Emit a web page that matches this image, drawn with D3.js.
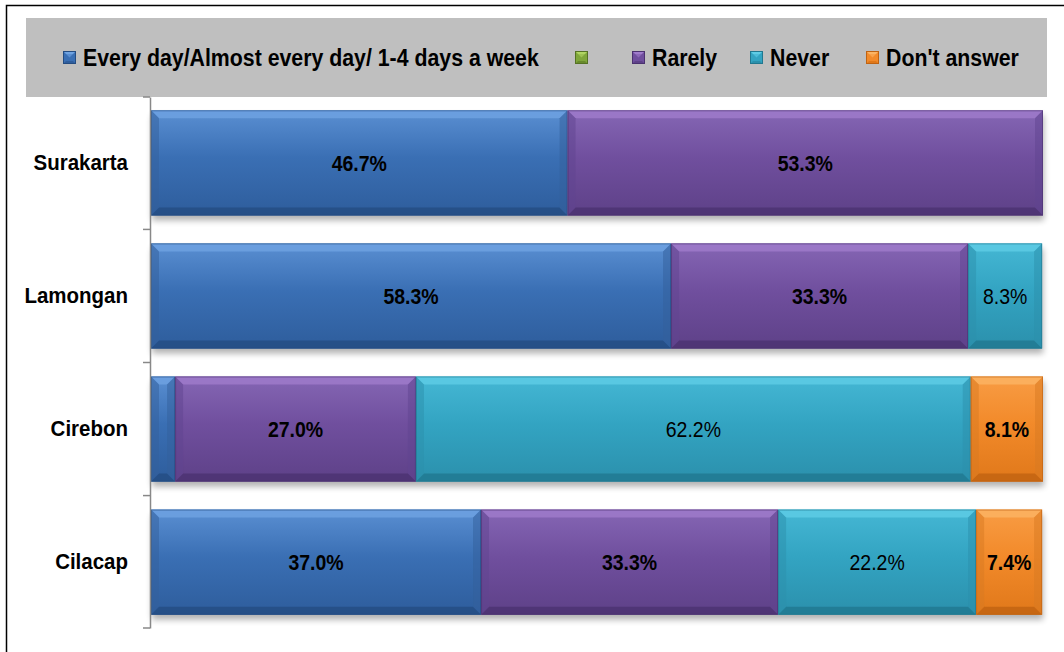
<!DOCTYPE html>
<html><head><meta charset="utf-8">
<script src="https://cdn.jsdelivr.net/npm/d3@7"></script>
<style>
body{margin:0;background:#fff;}
svg{display:block;}
text{font-family:"Liberation Sans",Arial,sans-serif;}
</style></head>
<body><svg id="chart" width="1064" height="652"></svg>
<script>
const categories = ["Surakarta", "Lamongan", "Cirebon", "Cilacap"];
const seriesNames = ["Every day/Almost every day/ 1-4 days a week", "", "Rarely", "Never", "Don't answer"];
const everyDay = [46.7, 58.3, 2.7, 37.0];
const blank = [0, 0, 0, 0];
const rarely = [53.3, 33.3, 27.0, 33.3];
const never = [0, 8.3, 62.2, 22.2];
const dontAnswer = [0, 0, 8.1, 7.4];
const seriesValues = [everyDay, blank, rarely, never, dontAnswer];
const labelBold = [true, true, true, false, true];

const K = 1.12; // narrow-font emulation: taller glyphs, same width

const palette = [
  {top:"#5a8fd2", mid:"#3a6fb4", bot:"#2e5d9c", edgeT:"#6fa3e2", edgeB:"#244c82", side:"#335f9c"},
  {top:"#9bc44e", mid:"#7fa63a", bot:"#688a2c", edgeT:"#b0d562", edgeB:"#557224", side:"#6e9030"},
  {top:"#8566b4", mid:"#704f9e", bot:"#5e4188", edgeT:"#a07ccc", edgeB:"#4b3270", side:"#604490"},
  {top:"#45b7d4", mid:"#33a4c2", bot:"#2b90ac", edgeT:"#5fcde6", edgeB:"#217890", side:"#2b8fab"},
  {top:"#f89c44", mid:"#f28a2a", bot:"#e0781a", edgeT:"#fbb464", edgeB:"#c06312", side:"#d87a22"}
];

const svg = d3.select("#chart");
const defs = svg.append("defs");
const f = defs.append("filter").attr("id","shadow").attr("x","-5%").attr("y","-20%").attr("width","110%").attr("height","160%");
f.append("feGaussianBlur").attr("stdDeviation", 3);

palette.forEach((p,i)=>{
  const g = defs.append("linearGradient").attr("id","g"+i).attr("x1",0).attr("y1",0).attr("x2",0).attr("y2",1);
  g.append("stop").attr("offset","0%").attr("stop-color",p.top);
  g.append("stop").attr("offset","45%").attr("stop-color",p.mid);
  g.append("stop").attr("offset","100%").attr("stop-color",p.bot);
});

// outer frame
svg.append("rect").attr("x",6.5).attr("y",5.5).attr("width",1100).attr("height",700)
  .attr("fill","none").attr("stroke","#000").attr("stroke-width",1.5);

// legend box
svg.append("rect").attr("x",26).attr("y",18).attr("width",1021).attr("height",79).attr("fill","#bfbfbf");

const x = d3.scaleLinear().domain([0,100]).range([151,1043]);
const y = d3.scaleBand().domain(categories).range([97,628]).paddingInner(0.21).paddingOuter(0.1);

const rows = categories.map((c,i)=>{
  let acc = 0;
  return seriesValues.map((arr,s)=>{
    const v = arr[i]; const d = {cat:c, s, v, x0:acc, x1:acc+v}; acc += v; return d;
  }).filter(d=>d.v>0);
});

// shadows
rows.forEach(r=>{
  const first = r[0], last = r[r.length-1];
  svg.append("rect").attr("x",x(first.x0)+1).attr("y",y(first.cat)+5)
    .attr("width",x(last.x1)-x(first.x0)).attr("height",y.bandwidth())
    .attr("fill","#000").attr("opacity",0.3).attr("filter","url(#shadow)");
});

const bev = 8;
const segs = svg.append("g").selectAll("g.seg").data(rows.flat()).join("g").attr("class","seg");
segs.each(function(d){
  const g = d3.select(this);
  const p = palette[d.s];
  const x0 = x(d.x0), x1 = x(d.x1), y0 = y(d.cat), y1 = y0 + y.bandwidth();
  const b = Math.min(bev, (x1-x0)/2);
  g.append("rect").attr("x",x0).attr("y",y0).attr("width",x1-x0).attr("height",y1-y0).attr("fill","url(#g"+d.s+")");
  const poly = pts => pts.map(q=>q.join(",")).join(" ");
  g.append("polygon").attr("points",poly([[x0,y0],[x1,y0],[x1-b,y0+b],[x0+b,y0+b]])).attr("fill",p.edgeT).attr("opacity",0.8);
  g.append("polygon").attr("points",poly([[x0,y1],[x1,y1],[x1-b,y1-b],[x0+b,y1-b]])).attr("fill",p.edgeB).attr("opacity",0.8);
  g.append("polygon").attr("points",poly([[x0,y0],[x0+b,y0+b],[x0+b,y1-b],[x0,y1]])).attr("fill",p.side).attr("opacity",0.5);
  g.append("polygon").attr("points",poly([[x1,y0],[x1-b,y0+b],[x1-b,y1-b],[x1,y1]])).attr("fill",p.side).attr("opacity",0.5);
  g.append("rect").attr("x",x0+0.5).attr("y",y0+0.5).attr("width",x1-x0-1).attr("height",y1-y0-1)
    .attr("fill","none").attr("stroke",p.edgeB).attr("stroke-opacity",0.6).attr("stroke-width",1);
  if (d.v >= 5) {
    g.append("text")
      .attr("transform",`translate(${(x0+x1)/2},${(y0+y1)/2}) scale(${1/K},1)`)
      .attr("dy","0.36em")
      .attr("text-anchor","middle").attr("font-size",19.5*K)
      .attr("font-weight",labelBold[d.s]?"bold":"normal").attr("fill","#000")
      .text(d.v.toFixed(1)+"%");
  }
});

// axis
const axis = d3.axisLeft(y).tickSize(0).tickPadding(22).tickSizeOuter(0);
const ag = svg.append("g").attr("transform","translate(150,0)").call(axis);
ag.select(".domain").attr("stroke","#888").attr("stroke-width",1.5);
ag.selectAll(".tick text").attr("font-size",20.5*K).attr("font-weight","bold").attr("fill","#000")
  .attr("x",-22*K).attr("transform",`scale(${1/K},1)`)
  .style("font-family",'"Liberation Sans",Arial,sans-serif');
const bounds = [97].concat(categories.map(c=>y(c)+y.bandwidth()+y.step()*y.paddingInner()/2));
bounds[bounds.length-1] = 628;
ag.selectAll("line.bnd").data(bounds).join("line").attr("class","bnd")
  .attr("x1",-7).attr("x2",0).attr("y1",d=>d).attr("y2",d=>d).attr("stroke","#888").attr("stroke-width",1.5);

// legend
const legendX = [63, 575, 632, 750, 866];
const lg = svg.append("g").selectAll("g").data(seriesNames.map((n,i)=>({n,i}))).join("g")
  .attr("transform",d=>`translate(${legendX[d.i]},51)`);
lg.each(function(d){
  const g = d3.select(this), p = palette[d.i], s = 13;
  g.append("rect").attr("width",s).attr("height",s).attr("fill",p.mid);
  g.append("polygon").attr("points",`0,0 ${s},0 ${s-3},3 3,3`).attr("fill",p.edgeT);
  g.append("polygon").attr("points",`3,3 ${s-3},3 ${s/2},${s/2}`).attr("fill",p.edgeT).attr("opacity",0.6);
  g.append("polygon").attr("points",`0,${s} ${s},${s} ${s-3},${s-3} 3,${s-3}`).attr("fill",p.bot);
  g.append("rect").attr("x",0.5).attr("y",0.5).attr("width",s-1).attr("height",s-1).attr("fill","none").attr("stroke",p.edgeB).attr("stroke-width",1);
  if (d.n) g.append("text").attr("transform",`translate(20,${s/2}) scale(${1/K},1)`).attr("dy","0.36em")
    .attr("font-size",21.3*K).attr("font-weight","bold").attr("fill","#000").text(d.n);
});
</script></body></html>
